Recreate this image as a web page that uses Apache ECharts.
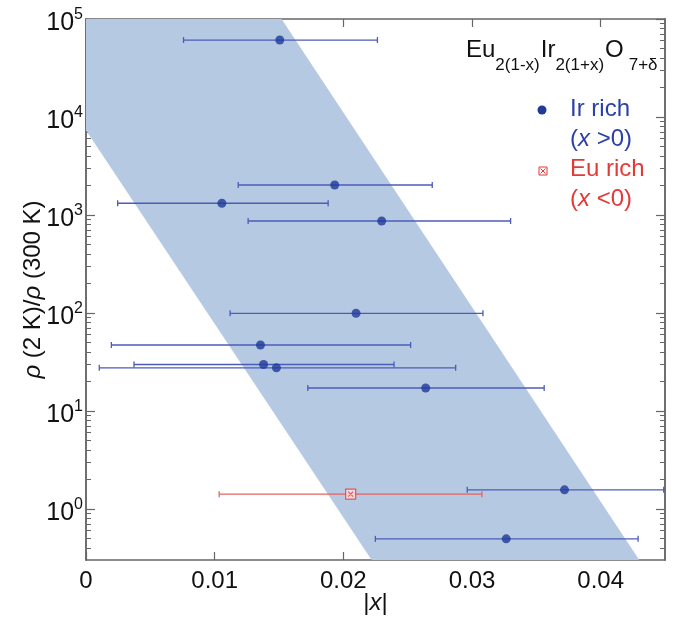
<!DOCTYPE html>
<html>
<head>
<meta charset="utf-8">
<script src="https://cdn.jsdelivr.net/npm/echarts@6/dist/echarts.min.js"></script>
<style>html,body{margin:0;padding:0;background:#fff}#chart{width:674px;height:625px}</style>
</head>
<body>
<div id="chart"></div>
<script>
// Ir-rich samples (x > 0)
const irX     = [0.01506, 0.01933, 0.01056, 0.02298, 0.02099, 0.01356, 0.01380, 0.01480, 0.02640, 0.03719, 0.03266];
const irY     = [61000, 2020, 1315, 867, 99, 47, 29.7, 27.5, 17.1, 1.56, 0.493];
const irXLow  = [0.00758, 0.01183, 0.00246, 0.01260, 0.01120, 0.00197, 0.00373, 0.00103, 0.01724, 0.02963, 0.02249];
const irXHigh = [0.02265, 0.02691, 0.01882, 0.03300, 0.03085, 0.02523, 0.02394, 0.02873, 0.03561, 0.04490, 0.04291];
// Eu-rich sample (x < 0)
const euX     = [0.02057];
const euY     = [1.41];
const euXLow  = [0.01035];
const euXHigh = [0.03077];
// shaded band vertices
const bandX = [0, 0.0152, 0.0430, 0.0222, 0];
const bandY = [100000, 100000, 0.3, 0.3, 7330];
// axis ticks
const xTicks = [0, 0.01, 0.02, 0.03, 0.04];
const yMajor = [1, 10, 100, 1000, 10000, 100000];
const yMinor = [0.4, 0.5, 0.6, 0.7, 0.8, 0.9,
  2, 3, 4, 5, 6, 7, 8, 9,
  20, 30, 40, 50, 60, 70, 80, 90,
  200, 300, 400, 500, 600, 700, 800, 900,
  2000, 3000, 4000, 5000, 6000, 7000, 8000, 9000,
  20000, 30000, 40000, 50000, 60000, 70000, 80000, 90000];

const FONT = 'Liberation Sans, Arial, sans-serif';
const AX = '#666666';
const BLUE_PT = '#1f3a98';
const BLUE_ERR = '#4b5cb8';
const BLUE_TXT = '#2c41a6';
const RED = '#e23a36';
const RED_ERR = '#e5625f';
const BAND = '#b6c9e3';

const chart = echarts.init(document.getElementById('chart'));

function errRender(color) {
  return function (params, api) {
    const y = api.value(2);
    const a = api.coord([api.value(0), y]);
    const b = api.coord([api.value(1), y]);
    const h = 3;
    const st = { stroke: color, lineWidth: 1.3 };
    return {
      type: 'group',
      children: [
        { type: 'line', shape: { x1: a[0], y1: a[1], x2: b[0], y2: b[1] }, style: st },
        { type: 'line', shape: { x1: a[0], y1: a[1] - h, x2: a[0], y2: a[1] + h }, style: st },
        { type: 'line', shape: { x1: b[0], y1: b[1] - h, x2: b[0], y2: b[1] + h }, style: st }
      ]
    };
  };
}

const xBase = {
  type: 'value', min: 0, max: 0.045, interval: 0.01,
  axisLine: { onZero: false, lineStyle: { color: AX, width: 1.5 } },
  axisTick: { inside: true, length: 8, customValues: xTicks, lineStyle: { color: AX, width: 1.2 } },
  splitLine: { show: false }
};
const yBase = {
  type: 'log', min: 0.3, max: 100000, logBase: 10,
  axisLine: { lineStyle: { color: AX, width: 1.5 } },
  splitLine: { show: false },
  minorTick: { show: false }
};

const option = {
  animation: false,
  backgroundColor: '#fff',
  grid: { left: 86, right: 9, top: 19, bottom: 65, containLabel: false },
  xAxis: [
    Object.assign({}, xBase, {
      position: 'bottom',
      axisLabel: {
        customValues: xTicks,
        fontSize: 24, color: '#111', fontFamily: FONT, margin: 9,
        formatter: v => (v === 0 ? '0' : v.toFixed(2))
      },
      name: '|{i|x}|',
      nameLocation: 'middle', nameGap: 31, nameMoveOverlap: false,
      nameTextStyle: { fontSize: 24, color: '#111', fontFamily: FONT,
        rich: { i: { fontSize: 24, fontStyle: 'italic', fontFamily: FONT, color: '#111' } } }
    }),
    Object.assign({}, xBase, { position: 'top', axisLabel: { show: false } })
  ],
  yAxis: [
    Object.assign({}, yBase, {
      position: 'left',
      axisTick: { inside: true, length: 9, customValues: yMajor, lineStyle: { color: AX, width: 1.2 } },
      axisLabel: {
        customValues: yMajor, margin: 3,
        formatter: v => '{b|10}{s|' + Math.round(Math.log10(v)) + '}',
        rich: {
          b: { fontSize: 25, lineHeight: 25, fontFamily: FONT, color: '#111', verticalAlign: 'top', padding: [4, 0, 0, 0] },
          s: { fontSize: 16, lineHeight: 16, fontFamily: FONT, color: '#111', verticalAlign: 'top' }
        }
      },
      name: '{i|ρ}{n| (2 K)/}{i|ρ}{n| (300 K)}',
      nameLocation: 'middle', nameGap: 41, nameMoveOverlap: false,
      nameTextStyle: { fontSize: 24, color: '#111', fontFamily: FONT,
        rich: {
          i: { fontSize: 24, fontStyle: 'italic', fontFamily: FONT, color: '#111' },
          n: { fontSize: 24, fontFamily: FONT, color: '#111' }
        } }
    }),
    Object.assign({}, yBase, {
      position: 'left',
      axisTick: { inside: true, length: 5, customValues: yMinor, lineStyle: { color: AX, width: 1 } },
      axisLabel: { show: false }
    }),
    Object.assign({}, yBase, {
      position: 'right',
      axisTick: { inside: true, length: 9, customValues: yMajor, lineStyle: { color: AX, width: 1.2 } },
      axisLabel: { show: false }
    }),
    Object.assign({}, yBase, {
      position: 'right',
      axisTick: { inside: true, length: 5, customValues: yMinor, lineStyle: { color: AX, width: 1 } },
      axisLabel: { show: false }
    })
  ],
  series: [
    {
      name: 'band', type: 'custom', silent: true, z: 1,
      data: bandX.map((x, i) => [x, bandY[i]]),
      encode: { x: 0, y: 1 },
      renderItem: function (params, api) {
        if (params.dataIndex !== 0) return null;
        const pts = bandX.map((x, i) => api.coord([x, bandY[i]]));
        return { type: 'polygon', shape: { points: pts }, style: { fill: BAND } };
      }
    },
    {
      name: 'Ir rich err', type: 'custom', z: 3, silent: true,
      data: irX.map((x, i) => [irXLow[i], irXHigh[i], irY[i]]),
      encode: { x: [0, 1], y: 2 },
      renderItem: errRender(BLUE_ERR)
    },
    {
      name: 'Eu rich err', type: 'custom', z: 3, silent: true,
      data: euX.map((x, i) => [euXLow[i], euXHigh[i], euY[i]]),
      encode: { x: [0, 1], y: 2 },
      renderItem: errRender(RED_ERR)
    },
    {
      name: 'Ir rich', type: 'scatter', z: 5,
      symbol: 'circle', symbolSize: 9,
      itemStyle: { color: BLUE_PT },
      data: irX.map((x, i) => [x, irY[i]])
    },
    {
      name: 'Eu rich', type: 'scatter', z: 5,
      symbol: 'path://M0,0L10,0L10,10L0,10Z M2.5,2.5L7.5,7.5 M7.5,2.5L2.5,7.5',
      symbolSize: 10,
      itemStyle: { color: '#fbe4e4', borderColor: RED, borderWidth: 1.2 },
      data: euX.map((x, i) => [x, euY[i]])
    }
  ],
  graphic: [
    {
      type: 'text', left: 466, top: 38, z: 10,
      style: {
        text: '{b|Eu}{s|2(1-x)}{b|Ir}{s|2(1+x)}{b|O}{t|7+δ}',
        rich: {
          b: { fontSize: 24, lineHeight: 24, fontFamily: FONT, fill: '#111', verticalAlign: 'top' },
          s: { fontSize: 17, lineHeight: 17, fontFamily: FONT, fill: '#111', verticalAlign: 'top', padding: [19, 1, 0, 0] },
          t: { fontSize: 17, lineHeight: 17, fontFamily: FONT, fill: '#111', verticalAlign: 'top', padding: [19, 0, 0, 5] }
        }
      }
    },
    { type: 'circle', shape: { cx: 542, cy: 110, r: 4.5 }, style: { fill: BLUE_PT }, z: 10 },
    {
      type: 'text', left: 570, top: 97, z: 10,
      style: { text: 'Ir rich', fontSize: 24, fontFamily: FONT, fill: BLUE_TXT }
    },
    {
      type: 'text', left: 570, top: 127, z: 10,
      style: {
        text: '{n|(}{i|x}{n| >0)}',
        rich: {
          n: { fontSize: 24, fontFamily: FONT, fill: BLUE_TXT },
          i: { fontSize: 24, fontFamily: FONT, fill: BLUE_TXT, fontStyle: 'italic' }
        }
      }
    },
    {
      type: 'group', left: 538, top: 166, z: 10,
      children: [
        { type: 'rect', shape: { x: 0, y: 0, width: 8, height: 8 }, style: { fill: '#fff', stroke: RED, lineWidth: 1 } },
        { type: 'line', shape: { x1: 1.5, y1: 1.5, x2: 6.5, y2: 6.5 }, style: { stroke: RED, lineWidth: 1 } },
        { type: 'line', shape: { x1: 6.5, y1: 1.5, x2: 1.5, y2: 6.5 }, style: { stroke: RED, lineWidth: 1 } }
      ]
    },
    {
      type: 'text', left: 570, top: 157, z: 10,
      style: { text: 'Eu rich', fontSize: 24, fontFamily: FONT, fill: RED }
    },
    {
      type: 'text', left: 570, top: 187, z: 10,
      style: {
        text: '{n|(}{i|x}{n| <0)}',
        rich: {
          n: { fontSize: 24, fontFamily: FONT, fill: RED },
          i: { fontSize: 24, fontFamily: FONT, fill: RED, fontStyle: 'italic' }
        }
      }
    }
  ]
};
chart.setOption(option);
</script>
</body>
</html>
